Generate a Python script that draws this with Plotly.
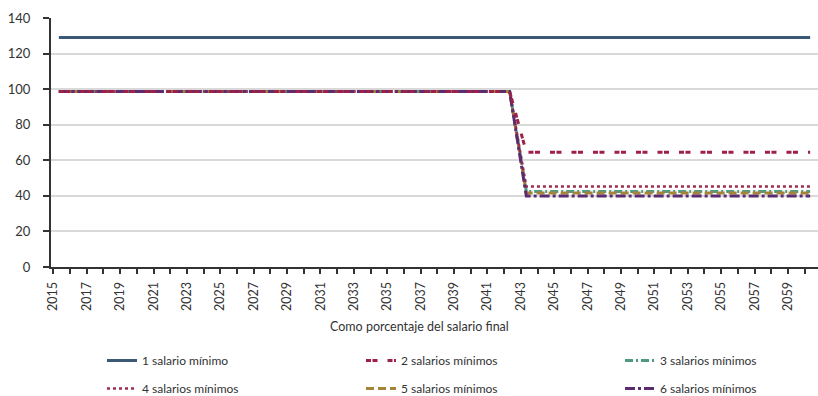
import plotly.graph_objects as go

years = list(range(2015, 2061))

s1 = [129.0] * 46
s2 = [98.7, 98.7, 98.7, 98.7, 98.7, 98.7, 98.7, 98.7, 98.7, 98.7, 98.7, 98.7, 98.7, 98.7,
      98.7, 98.7, 98.7, 98.7, 98.7, 98.7, 98.7, 98.7, 98.7, 98.7, 98.7, 98.7, 98.7, 98.7,
      64.5, 64.5, 64.5, 64.5, 64.5, 64.5, 64.5, 64.5, 64.5, 64.5, 64.5, 64.5, 64.5, 64.5,
      64.5, 64.5, 64.5, 64.5]
s3 = [98.7, 98.7, 98.7, 98.7, 98.7, 98.7, 98.7, 98.7, 98.7, 98.7, 98.7, 98.7, 98.7, 98.7,
      98.7, 98.7, 98.7, 98.7, 98.7, 98.7, 98.7, 98.7, 98.7, 98.7, 98.7, 98.7, 98.7, 98.7,
      42.5, 42.5, 42.5, 42.5, 42.5, 42.5, 42.5, 42.5, 42.5, 42.5, 42.5, 42.5, 42.5, 42.5,
      42.5, 42.5, 42.5, 42.5]
s4 = [98.7, 98.7, 98.7, 98.7, 98.7, 98.7, 98.7, 98.7, 98.7, 98.7, 98.7, 98.7, 98.7, 98.7,
      98.7, 98.7, 98.7, 98.7, 98.7, 98.7, 98.7, 98.7, 98.7, 98.7, 98.7, 98.7, 98.7, 98.7,
      45.2, 45.2, 45.2, 45.2, 45.2, 45.2, 45.2, 45.2, 45.2, 45.2, 45.2, 45.2, 45.2, 45.2,
      45.2, 45.2, 45.2, 45.2]
s5 = [98.7, 98.7, 98.7, 98.7, 98.7, 98.7, 98.7, 98.7, 98.7, 98.7, 98.7, 98.7, 98.7, 98.7,
      98.7, 98.7, 98.7, 98.7, 98.7, 98.7, 98.7, 98.7, 98.7, 98.7, 98.7, 98.7, 98.7, 98.7,
      41.6, 41.6, 41.6, 41.6, 41.6, 41.6, 41.6, 41.6, 41.6, 41.6, 41.6, 41.6, 41.6, 41.6,
      41.6, 41.6, 41.6, 41.6]
s6 = [98.7, 98.7, 98.7, 98.7, 98.7, 98.7, 98.7, 98.7, 98.7, 98.7, 98.7, 98.7, 98.7, 98.7,
      98.7, 98.7, 98.7, 98.7, 98.7, 98.7, 98.7, 98.7, 98.7, 98.7, 98.7, 98.7, 98.7, 98.7,
      39.9, 39.9, 39.9, 39.9, 39.9, 39.9, 39.9, 39.9, 39.9, 39.9, 39.9, 39.9, 39.9, 39.9,
      39.9, 39.9, 39.9, 39.9]

names = ["1 salario mínimo", "2 salarios mínimos", "3 salarios mínimos",
         "4 salarios mínimos", "5 salarios mínimos", "6 salarios mínimos"]
label_years = list(range(2015, 2061, 2))
y_ticks = [0, 20, 40, 60, 80, 100, 120, 140]
x_title = "Como porcentaje del salario final"

FONT = "Lato, 'Open Sans', sans-serif"
TXT = "#333333"

styles = {
    0: dict(color="#3b5876", width=3, dash="solid"),
    1: dict(color="#9e1f47", width=3, dash="5px,1.5px,5px,10px"),
    2: dict(color="#4f9a84", width=3, dash="8px,3px,2px,3px"),
    3: dict(color="#9b2d4f", width=2.5, dash="dot"),
    4: dict(color="#a68436", width=3, dash="8px,4px"),
    5: dict(color="#5b2c6f", width=3, dash="10px,3px,3px,3px"),
}
series = [s1, s2, s3, s4, s5, s6]
draw_order = [0, 2, 4, 3, 5, 1]
legend_of = {0: "legend", 3: "legend", 1: "legend2", 4: "legend2", 2: "legend3", 5: "legend3"}

fig = go.Figure()
for i in draw_order:
    fig.add_trace(go.Scatter(
        x=years, y=series[i], mode="lines", name=names[i],
        line=styles[i], legendrank=i + 1, legendgroup=f"g{i}",
        legend=legend_of[i],
    ))

leg_common = dict(orientation="v", xref="container", yref="container",
                  xanchor="left", yanchor="top", tracegroupgap=9,
                  font=dict(size=12, color=TXT), bgcolor="rgba(0,0,0,0)")
col_text_x = [143, 402, 661]
leg_top = 346

off = 0.33  # labels sit slightly left of the data points
fig.update_layout(
    width=818, height=396,
    margin=dict(l=51, r=0, t=18, b=129, autoexpand=False),
    plot_bgcolor="white", paper_bgcolor="white",
    font=dict(family=FONT, size=12, color=TXT),
    showlegend=True,
    legend=dict(x=(col_text_x[0] - 41) / 818, y=(396 - leg_top) / 396, **leg_common),
    legend2=dict(x=(col_text_x[1] - 41) / 818, y=(396 - leg_top) / 396, **leg_common),
    legend3=dict(x=(col_text_x[2] - 41) / 818, y=(396 - leg_top) / 396, **leg_common),
    xaxis=dict(
        range=[2014.53, 2060.47],
        tickmode="array",
        tickvals=[y - off for y in label_years],
        ticktext=[str(y) for y in label_years],
        tickangle=-90, ticks="outside", ticklen=5, tickwidth=1.5, tickcolor=TXT,
        minor=dict(tickmode="array", tickvals=[y - off for y in years],
                   ticks="outside", ticklen=5, tickwidth=1.5, tickcolor=TXT, showgrid=False),
        showgrid=False, showline=True, linecolor="#333333", linewidth=2,
        zeroline=False, tickfont=dict(size=12.5, color=TXT), ticklabelstandoff=3,
    ),
    yaxis=dict(
        range=[0, 140], tickvals=y_ticks, ticks="outside", ticklen=6, tickwidth=1.5,
        tickcolor=TXT, showgrid=True, gridcolor="#d9d9d9", gridwidth=1.5,
        showline=True, linecolor="#333333", linewidth=2, zeroline=False,
        tickfont=dict(size=13, color=TXT), ticklabelstandoff=10,
    ),
    annotations=[dict(text=x_title, xref="paper", yref="paper", x=0.481, y=-0.24,
                      xanchor="center", yanchor="middle", showarrow=False,
                      font=dict(size=12.5, color=TXT))],
)

fig.write_html(
    "out.html",
    config={"displayModeBar": False},
    post_script="document.body.style.margin='0';document.body.style.overflow='hidden';",
)
